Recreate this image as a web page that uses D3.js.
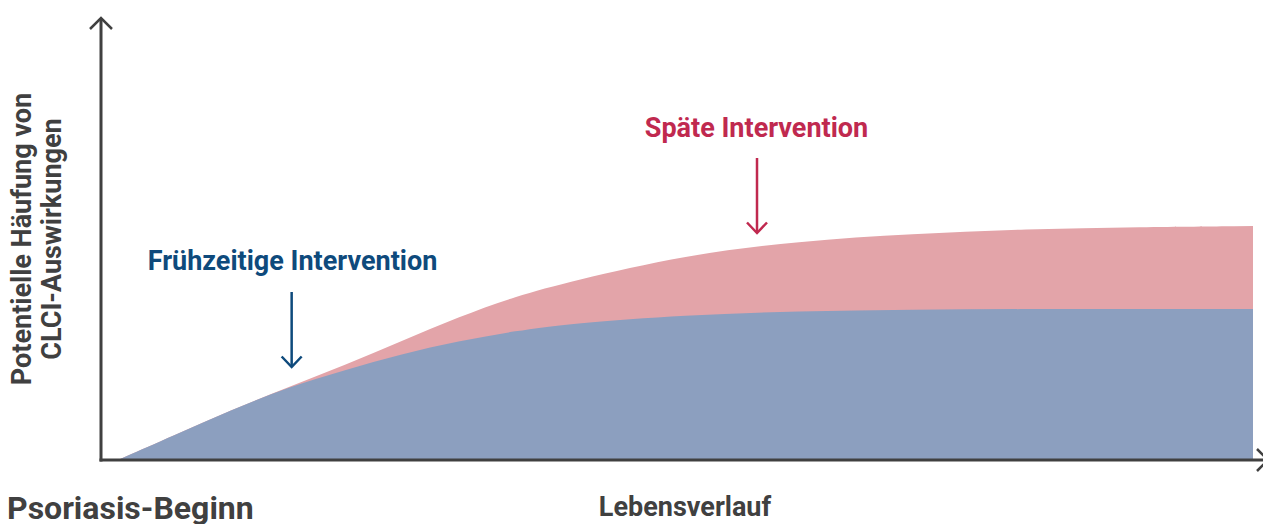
<!DOCTYPE html>
<html>
<head>
  <meta charset="utf-8">
  <title>Potentielle Häufung von CLCI-Auswirkungen</title>
  <style>
    body { margin: 0; background: #fff; }
    text { font-family: Roboto, "Noto Sans", sans-serif; font-weight: 700; }
  </style>
</head>
<body>
  <script src="https://cdn.jsdelivr.net/npm/d3@7"></script>
  <script>
    // data (life course 0..100, burden 0..100)
    const lifeCourse = [0, 5, 10, 15, 20, 25, 30, 35, 40, 50, 60, 70, 80, 90, 100];
    const earlyValues = [0, 6.25, 12.5, 18.25, 22.5, 26.5, 29.75, 32.25, 34.2, 36.25, 37.25, 37.6, 37.75, 37.75, 37.75];
    const lateValues = [0, 6.25, 12.5, 18.25, 23.75, 29.75, 35.75, 40.9, 44.75, 51.25, 54.75, 56.5, 57.75, 58.25, 58.5];
    const seriesNames = ["Frühzeitige Intervention", "Späte Intervention"];
    const interventionAt = [15.3, 56.3];   // where the arrows point on the life course

    const W = 1263, H = 524;
    const x0 = 101, yBase = 460;

    const svg = d3.select("body").append("svg")
      .attr("width", W)
      .attr("height", H);

    const x = d3.scaleLinear().domain([0, 100]).range([118, 1253]);
    const y = d3.scaleLinear().domain([0, 100]).range([yBase, 60]);

    const late = lifeCourse.map((d, i) => ({ t: d, v: lateValues[i] }));
    const early = lifeCourse.map((d, i) => ({ t: d, v: earlyValues[i] }));

    const area = d3.area()
      .x(d => x(d.t))
      .y0(y(0))
      .y1(d => y(d.v))
      .curve(d3.curveBasis);

    svg.append("path").datum(late)
      .attr("d", area)
      .attr("fill", "#e3a4a9");

    svg.append("path").datum(early)
      .attr("d", area)
      .attr("fill", "#8c9fbf");

    // axes with arrow heads
    const axisColor = "#404040";
    svg.append("line")
      .attr("x1", x0).attr("y1", 18).attr("x2", x0).attr("y2", yBase + 1.5)
      .attr("stroke", axisColor).attr("stroke-width", 3);
    svg.append("path")
      .attr("d", `M${x0 - 11},${29} L${x0},${18} L${x0 + 11},${29}`)
      .attr("fill", "none").attr("stroke", axisColor).attr("stroke-width", 2.5);
    svg.append("line")
      .attr("x1", x0 - 1.5).attr("y1", yBase).attr("x2", 1268).attr("y2", yBase)
      .attr("stroke", axisColor).attr("stroke-width", 3);
    svg.append("path")
      .attr("d", `M1257,${yBase - 11} L1268,${yBase} L1257,${yBase + 11}`)
      .attr("fill", "none").attr("stroke", axisColor).attr("stroke-width", 2.5);

    // axis titles
    const yTitle = svg.append("text")
      .attr("transform", "translate(31,239) rotate(-90)")
      .attr("text-anchor", "middle")
      .attr("font-size", "27px")
      .attr("fill", axisColor);
    yTitle.append("tspan").attr("x", 0).attr("dy", 0).text("Potentielle Häufung von");
    yTitle.append("tspan").attr("x", 0).attr("dy", 30).text("CLCI-Auswirkungen");

    svg.append("text")
      .attr("x", 685).attr("y", 516)
      .attr("text-anchor", "middle")
      .attr("font-size", "27px")
      .attr("fill", axisColor)
      .text("Lebensverlauf");

    svg.append("text")
      .attr("x", 7).attr("y", 519)
      .attr("font-size", "32px")
      .attr("fill", axisColor)
      .text("Psoriasis-Beginn");

    // annotations
    const annColors = ["#0e4a7c", "#c0294f"];
    const labelY = [270, 137];
    const labelX = [292.5, 756.5];
    const arrowTop = [292, 158];
    const arrowTip = [367, 233];

    seriesNames.forEach((name, i) => {
      const ax = x(interventionAt[i]);
      svg.append("text")
        .attr("x", labelX[i]).attr("y", labelY[i])
        .attr("text-anchor", "middle")
        .attr("font-size", "27px")
        .attr("fill", annColors[i])
        .text(name);
      svg.append("line")
        .attr("x1", ax).attr("y1", arrowTop[i]).attr("x2", ax).attr("y2", arrowTip[i])
        .attr("stroke", annColors[i]).attr("stroke-width", 2.5);
      svg.append("path")
        .attr("d", `M${ax - 10},${arrowTip[i] - 10.5} L${ax},${arrowTip[i]} L${ax + 10},${arrowTip[i] - 10.5}`)
        .attr("fill", "none").attr("stroke", annColors[i]).attr("stroke-width", 2.5);
    });
  </script>
</body>
</html>
